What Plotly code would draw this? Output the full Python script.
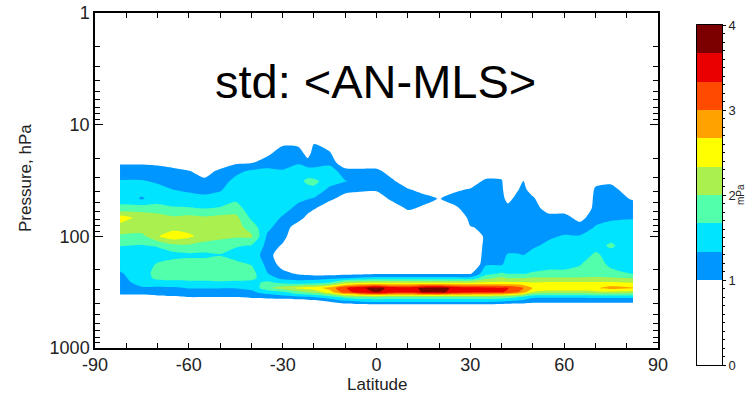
import plotly.graph_objects as go

# ---------------- data ----------------
latitudes = [-82, -75, -70, -65, -60, -55, -50, -45, -40, -35, -30, -25, -22, -20, -15, -10, -5, 0,
             5, 10, 15, 20, 25, 30, 35, 40, 42, 45, 47, 50, 55, 60, 65, 70, 75, 82]
pressures = [450, 400, 350, 316, 290, 261, 237, 215, 178, 147, 121, 100, 83, 68, 56, 46, 38, 32,
             26, 22, 18, 15, 12, 10]

# std (mPa); one list per latitude, values listed from the bottom pressure level up
std_by_lat = [
    [0, 0, 0.85, 1.15, 1.15, 1.2, 1.25, 1.3, 1.45, 1.55, 1.68, 1.95, 2.2, 2.5, 1.75, 1.55, 1.45, 1.35, 1.2, 0.95, 0, 0, 0, 0],
    [0, 0, 0.85, 1.15, 1.3, 1.45, 1.5, 1.5, 1.5, 1.55, 1.65, 1.9, 2.2, 2.2, 1.85, 1.3, 1.45, 1.35, 1.2, 0.95, 0, 0, 0, 0],
    [0, 0, 0.9, 1.2, 1.28, 1.5, 1.75, 1.8, 1.7, 1.5, 1.7, 2.3, 2.2, 2.15, 1.8, 1.5, 1.4, 1.3, 1.2, 0.9, 0, 0, 0, 0],
    [0, 0, 0.95, 1.2, 1.3, 1.5, 1.8, 1.85, 1.8, 1.55, 1.9, 2.55, 2.2, 2.05, 1.7, 1.5, 1.33, 1.25, 1.15, 0.75, 0, 0, 0, 0],
    [0, 0, 1.0, 1.2, 1.35, 1.55, 1.8, 1.85, 1.8, 1.6, 1.95, 2.4, 2.2, 2.1, 1.7, 1.4, 1.3, 1.2, 1.02, 0.5, 0, 0, 0, 0],
    [0, 0, 1.0, 1.2, 1.35, 1.55, 1.8, 1.85, 1.8, 1.6, 1.85, 2.2, 2.2, 2.05, 1.65, 1.4, 1.25, 1.1, 0.8, 0.3, 0, 0, 0, 0],
    [0, 0, 1.0, 1.2, 1.35, 1.6, 1.8, 1.85, 1.8, 1.65, 1.8, 2.1, 2.2, 2.1, 1.7, 1.45, 1.3, 1.2, 1.1, 0.7, 0, 0, 0, 0],
    [0, 0, 1.0, 1.2, 1.35, 1.55, 1.8, 1.85, 1.75, 1.55, 1.7, 2.05, 2.15, 2.1, 1.8, 1.6, 1.5, 1.42, 1.25, 0.95, 0, 0, 0, 0],
    [0, 0.3, 1.12, 1.28, 1.4, 1.55, 1.75, 1.8, 1.65, 1.5, 1.65, 2.05, 1.85, 1.6, 1.5, 1.5, 1.45, 1.45, 1.38, 0.98, 0, 0, 0, 0],
    [0, 0.4, 1.15, 1.45, 1.9, 1.75, 1.5, 1.35, 1.25, 1.2, 1.25, 1.3, 1.4, 1.5, 1.5, 1.5, 1.5, 1.45, 1.4, 1.2, 0.9, 0.3, 0, 0],
    [0, 0.4, 1.2, 1.6, 2.2, 1.6, 1.25, 1.1, 0.85, 0.7, 0.95, 1.15, 1.2, 1.3, 1.45, 1.5, 1.5, 1.45, 1.35, 1.25, 1.2, 0.95, 0, 0],
    [0, 0.5, 1.25, 1.9, 2.4, 1.5, 1.2, 0.95, 0.4, 0.3, 0.4, 0.6, 0.8, 1.15, 1.25, 1.4, 1.5, 1.55, 1.5, 1.3, 1.25, 0.9, 0, 0],
    [0, 0.55, 1.3, 2.0, 2.5, 1.55, 1.2, 0.9, 0.35, 0.25, 0.25, 0.4, 0.6, 0.9, 1.15, 1.35, 1.55, 1.75, 1.45, 1.2, 0.8, 0.2, 0, 0],
    [0, 0.6, 1.35, 2.1, 2.5, 1.55, 1.2, 0.85, 0.3, 0.2, 0.2, 0.3, 0.5, 0.7, 1.05, 1.3, 1.6, 1.75, 1.4, 1.25, 1.2, 1.02, 0.3, 0],
    [0, 0.8, 1.5, 2.5, 2.8, 1.7, 1.25, 0.85, 0.2, 0.1, 0.1, 0.1, 0.2, 0.4, 0.7, 1.1, 1.25, 1.5, 1.5, 1.25, 1.08, 0.7, 0, 0],
    [0, 1.0, 1.8, 3.2, 3.3, 2.2, 1.3, 0.9, 0.2, 0.1, 0.1, 0.1, 0.1, 0.2, 0.4, 0.8, 1.15, 1.35, 1.15, 0.7, 0.2, 0, 0, 0],
    [0, 1.1, 1.9, 3.5, 3.6, 2.3, 1.4, 0.9, 0.1, 0, 0, 0, 0, 0.1, 0.3, 0.7, 1.1, 1.2, 1.15, 0.6, 0, 0, 0, 0],
    [0, 1.15, 1.95, 3.7, 3.8, 2.35, 1.45, 0.95, 0.1, 0, 0, 0, 0, 0.1, 0.3, 0.6, 1.1, 1.2, 1.15, 0.6, 0, 0, 0, 0],
    [0, 1.15, 1.9, 3.5, 3.55, 2.35, 1.45, 0.95, 0.1, 0, 0, 0, 0, 0.1, 0.6, 1.15, 1.25, 1.1, 0.7, 0.2, 0, 0, 0, 0],
    [0, 1.15, 1.9, 3.45, 3.5, 2.35, 1.45, 0.95, 0.1, 0, 0, 0, 0.1, 0.6, 1.1, 1.25, 1.05, 0.6, 0.2, 0, 0, 0, 0, 0],
    [0, 1.15, 1.9, 3.7, 3.75, 2.35, 1.45, 0.95, 0.1, 0, 0, 0, 0, 0.3, 0.9, 1.2, 0.8, 0.3, 0, 0, 0, 0, 0, 0],
    [0, 1.15, 1.9, 3.75, 3.8, 2.35, 1.45, 0.95, 0.1, 0, 0, 0, 0, 0.2, 0.6, 0.97, 0.5, 0, 0, 0, 0, 0, 0, 0],
    [0, 1.15, 1.9, 3.55, 3.6, 2.35, 1.45, 0.95, 0.1, 0, 0, 0, 0, 0.3, 0.9, 1.2, 0.9, 0.4, 0, 0, 0, 0, 0, 0],
    [0, 1.15, 1.9, 3.45, 3.5, 2.35, 1.45, 0.95, 0.5, 0.5, 0.5, 0.6, 0.97, 1.2, 1.25, 1.25, 1.05, 0.6, 0, 0, 0, 0, 0, 0],
    [0, 1.15, 1.9, 3.4, 3.45, 2.4, 1.9, 1.55, 1.3, 1.2, 1.15, 1.1, 1.1, 1.15, 1.2, 1.2, 1.2, 1.15, 0.5, 0, 0, 0, 0, 0],
    [0, 1.1, 1.85, 3.35, 3.4, 2.4, 2.1, 1.7, 1.3, 1.25, 1.2, 1.15, 1.15, 1.15, 1.15, 1.15, 1.15, 1.1, 0.5, 0, 0, 0, 0, 0],
    [0, 1.05, 1.8, 3.3, 3.35, 2.4, 2.0, 1.65, 1.45, 1.36, 1.2, 1.2, 1.2, 1.2, 1.15, 0.85, 0.5, 0.2, 0, 0, 0, 0, 0, 0],
    [0, 1.0, 1.7, 3.05, 3.2, 2.4, 2.0, 1.65, 1.45, 1.36, 1.2, 1.2, 1.2, 1.2, 1.2, 1.15, 0.95, 0.4, 0, 0, 0, 0, 0, 0],
    [0, 1.0, 1.6, 2.8, 3.0, 2.4, 2.0, 1.65, 1.45, 1.33, 1.2, 1.2, 1.2, 1.2, 1.2, 1.2, 1.15, 1.05, 0.3, 0, 0, 0, 0, 0],
    [0, 0.95, 1.4, 2.3, 2.65, 2.35, 2.05, 1.7, 1.5, 1.4, 1.3, 1.2, 1.2, 1.2, 1.2, 1.1, 0.7, 0.2, 0, 0, 0, 0, 0, 0],
    [0, 0.95, 1.38, 2.2, 2.55, 2.4, 2.05, 1.75, 1.55, 1.45, 1.38, 1.3, 1.2, 1.15, 0.8, 0.4, 0, 0, 0, 0, 0, 0, 0, 0],
    [0, 0.95, 1.38, 2.2, 2.55, 2.4, 2.05, 1.75, 1.55, 1.45, 1.4, 1.35, 1.25, 1.15, 0.8, 0.4, 0, 0, 0, 0, 0, 0, 0, 0],
    [0, 0.95, 1.38, 2.2, 2.55, 2.4, 2.05, 1.75, 1.65, 1.5, 1.45, 1.35, 1.2, 0.85, 0.2, 0, 0, 0, 0, 0, 0, 0, 0, 0],
    [0, 0.95, 1.4, 2.25, 2.6, 2.4, 2.05, 1.85, 1.8, 1.72, 1.55, 1.45, 1.35, 1.25, 1.25, 1.2, 1.1, 0.8, 0.3, 0, 0, 0, 0, 0],
    [0, 0.95, 1.4, 2.25, 2.8, 2.4, 2.05, 1.75, 1.6, 1.55, 1.72, 1.55, 1.4, 1.3, 1.28, 1.22, 1.15, 0.9, 0.4, 0, 0, 0, 0, 0],
    [0, 0.95, 1.4, 2.2, 2.7, 2.35, 2.0, 1.65, 1.55, 1.5, 1.45, 1.42, 1.4, 1.32, 1.25, 0.95, 0.7, 0.2, 0, 0, 0, 0, 0, 0],
]

# colour-bar levels (mPa) and band colours
cb_levels = [0, 1, 4 / 3, 5 / 3, 2, 7 / 3, 8 / 3, 3, 10 / 3, 11 / 3, 4]
cb_colors = ["#ffffff", "#0096ff", "#00e4ff", "#52ffaa", "#aaf04e", "#ffff00",
             "#ffa200", "#ff4a00", "#ea0000", "#7c0000"]
x_ticks = [-90, -60, -30, 0, 30, 60, 90]
x_ticklabels = ["-90", "-60", "-30", "0", "30", "60", "90"]
x_minor = [-80, -70, -50, -40, -20, -10, 10, 20, 40, 50, 70, 80]
y_ticks = [1, 10, 100, 1000]
y_minor = [2, 3, 4, 5, 6, 7, 8, 9, 20, 30, 40, 50, 60, 70, 80, 90, 200, 300, 400, 500, 600, 700, 800, 900]
cb_ticks = [0, 1, 2, 3, 4]

# ---------------- build ----------------
z = [[std_by_lat[j][i] for j in range(len(latitudes))] for i in range(len(pressures))]

# contour bands: three white bands below 1, then the nine coloured ones
band_colors = ["#ffffff", "#ffffff"] + cb_colors
n = len(band_colors)
colorscale = []
for k, c in enumerate(band_colors):
    lo = max(0.0, (k - 0.5) / (n - 1))
    hi = min(1.0, (k + 0.5) / (n - 1))
    colorscale.append([lo, c])
    colorscale.append([hi, c])

FONT = "Liberation Sans, Arial, sans-serif"
W, H = 745, 398
ml, mr, mt, mb = 95, 20, 13, 33
pw, ph = W - ml - mr, H - mt - mb


def px(x):
    return (x - ml) / pw


def py(y):
    return (H - mb - y) / ph


fig = go.Figure()
fig.add_trace(go.Contour(
    x=latitudes, y=pressures, z=z,
    zmin=0, zmax=4,
    contours=dict(start=1 / 3, end=11 / 3, size=1 / 3, coloring="fill", showlines=False),
    colorscale=colorscale, showscale=False,
    line=dict(width=0, smoothing=0.7),
    hoverinfo="skip",
))

fig.add_trace(go.Bar(
    x=[0.5] * (len(cb_levels) - 1),
    y=[cb_levels[i + 1] - cb_levels[i] for i in range(len(cb_levels) - 1)],
    base=cb_levels[:-1],
    width=1,
    marker=dict(color=cb_colors, line=dict(width=0)),
    xaxis="x2", yaxis="y2", showlegend=False, hoverinfo="skip",
))

fig.update_layout(
    template="none",
    width=W, height=H,
    margin=dict(l=ml, r=mr, t=mt, b=mb, autoexpand=False),
    paper_bgcolor="white", plot_bgcolor="white",
    font=dict(family=FONT, color="#1a1a1a"),
    barmode="overlay", bargap=0,
    showlegend=False,
    xaxis=dict(
        domain=[0, px(658)], range=[-90, 90], automargin=False,
        tickmode="array", tickvals=x_ticks, ticktext=x_ticklabels,
        ticks="inside", ticklen=5, tickwidth=1, tickcolor="black",
        minor=dict(tickmode="array", tickvals=x_minor, ticks="inside", ticklen=5, tickcolor="black",
                   showgrid=False),
        showline=True, linecolor="black", linewidth=1.5, mirror="ticks",
        showgrid=False, zeroline=False,
        tickfont=dict(size=18, family=FONT, color="#222"),
    ),
    yaxis=dict(
        domain=[py(348), 1], type="log", range=[3, 0], automargin=False,
        tickmode="array", tickvals=y_ticks, ticktext=[str(v) for v in y_ticks],
        ticks="inside", ticklen=8, tickwidth=1, tickcolor="black",
        minor=dict(tickmode="array", tickvals=y_minor, ticks="inside", ticklen=5, tickcolor="black",
                   showgrid=False),
        showline=True, linecolor="black", linewidth=1.5, mirror="ticks",
        showgrid=False, zeroline=False,
        tickfont=dict(size=18, family=FONT, color="#222"),
    ),
    xaxis2=dict(
        domain=[px(697), px(722)], range=[0, 1], anchor="y2", automargin=False,
        showticklabels=False, ticks="", showgrid=False, zeroline=False,
        showline=True, linecolor="black", linewidth=1, mirror=True, fixedrange=True,
    ),
    yaxis2=dict(
        domain=[py(365), py(25)], range=[0, 4], anchor="x2", side="right", automargin=False,
        tickmode="array", tickvals=cb_ticks, ticktext=[str(v) for v in cb_ticks],
        ticks="outside", ticklen=3, tickcolor="black",
        minor=dict(dtick=0.1, ticks="outside", ticklen=2, tickcolor="black", showgrid=False),
        showline=True, linecolor="black", linewidth=1, mirror=True,
        showgrid=False, zeroline=False,
        tickfont=dict(size=13, family=FONT, color="#222"),
    ),
    annotations=[
        dict(text="std: &lt;AN-MLS&gt;", x=px(375), y=py(81), xref="paper", yref="paper",
             showarrow=False, font=dict(size=47, family=FONT, color="black"),
             xanchor="center", yanchor="middle"),
        dict(text="Latitude", x=px(377), y=py(384), xref="paper", yref="paper",
             showarrow=False, font=dict(size=17, family=FONT, color="#222"),
             xanchor="center", yanchor="middle"),
        dict(text="Pressure, hPa", x=px(25), y=py(178), xref="paper", yref="paper",
             showarrow=False, textangle=-90, font=dict(size=17, family=FONT, color="#222"),
             xanchor="center", yanchor="middle"),
        dict(text="mPa", x=px(740), y=py(195), xref="paper", yref="paper",
             showarrow=False, textangle=-90, font=dict(size=10, family=FONT, color="#222"),
             xanchor="center", yanchor="middle"),
    ],
)

fig.write_html("out.html")
